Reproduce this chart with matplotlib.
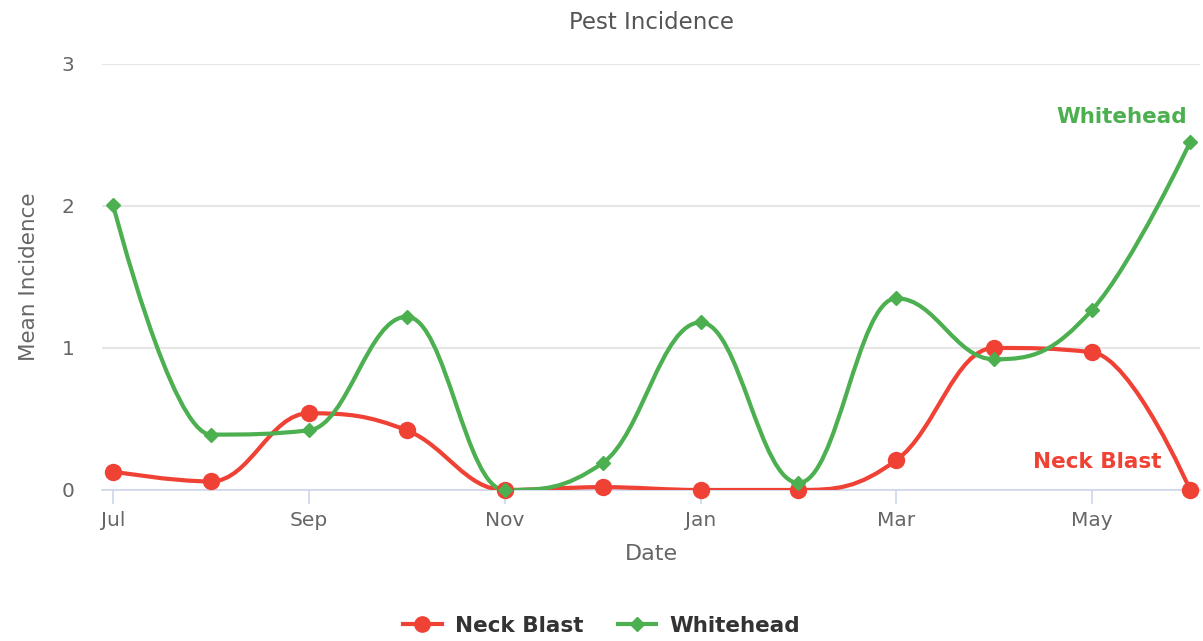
import matplotlib
matplotlib.use('Agg')
import matplotlib.pyplot as plt
from matplotlib.path import Path
from matplotlib.patches import PathPatch
from matplotlib.lines import Line2D

plt.rcParams['font.family'] = ['DejaVu Sans']

# monthly data, Jul .. Jun
months = ['Jul', 'Aug', 'Sep', 'Oct', 'Nov', 'Dec', 'Jan', 'Feb', 'Mar', 'Apr', 'May', 'Jun']
neck_blast = [0.13, 0.06, 0.54, 0.42, 0.0, 0.02, 0.0, 0.0, 0.21, 1.0, 0.97, 0.0]
whitehead = [2.01, 0.39, 0.42, 1.22, 0.0, 0.19, 1.18, 0.05, 1.35, 0.92, 1.27, 2.45]
tick_months = ['Jul', 'Sep', 'Nov', 'Jan', 'Mar', 'May']

RED = '#f04135'
GREEN = '#4caf50'


def spline_path(xs, ys, smoothing=1.5):
    # bezier path with highcharts style control points
    n = len(xs)
    left = [(xs[i], ys[i]) for i in range(n)]
    right = [(xs[i], ys[i]) for i in range(n)]
    denom = smoothing + 1
    for i in range(1, n - 1):
        px, py = xs[i], ys[i]
        lx, ly = xs[i - 1], ys[i - 1]
        nx, ny = xs[i + 1], ys[i + 1]
        lcx = (smoothing * px + lx) / denom
        lcy = (smoothing * py + ly) / denom
        rcx = (smoothing * px + nx) / denom
        rcy = (smoothing * py + ny) / denom
        if rcx != lcx:
            corr = (rcy - lcy) * (rcx - px) / (rcx - lcx) + py - rcy
            lcy += corr
            rcy += corr
        if lcy > ly and lcy > py:
            lcy = max(ly, py)
            rcy = 2 * py - lcy
        elif lcy < ly and lcy < py:
            lcy = min(ly, py)
            rcy = 2 * py - lcy
        if rcy > ny and rcy > py:
            rcy = max(ny, py)
            lcy = 2 * py - rcy
        elif rcy < ny and rcy < py:
            rcy = min(ny, py)
            lcy = 2 * py - rcy
        left[i] = (lcx, lcy)
        right[i] = (rcx, rcy)
    verts = [(xs[0], ys[0])]
    codes = [Path.MOVETO]
    for i in range(1, n):
        verts += [right[i - 1], left[i], (xs[i], ys[i])]
        codes += [Path.CURVE4] * 3
    return Path(verts, codes)


x = list(range(len(months)))

fig = plt.figure(figsize=(12.03, 6.41), dpi=100)
ax = fig.add_axes([0.0848, 0.2356, 0.9127, 0.6646])

for sp in ['top', 'right', 'left']:
    ax.spines[sp].set_visible(False)
ax.spines['bottom'].set_color('#ccd6eb')
ax.spines['bottom'].set_linewidth(1.2)

ax.set_ylim(0, 3)
ax.set_xlim(-0.112, 11.1)
ax.set_yticks([0, 1, 2, 3])
ax.yaxis.grid(True, color='#e6e6e6', lw=1.5)
ax.set_axisbelow(True)
ax.tick_params(axis='y', length=0, pad=20, labelsize=14.5, labelcolor='#666666')
ax.set_xticks([months.index(m) for m in tick_months])
ax.set_xticklabels(tick_months)
ax.tick_params(axis='x', length=10, width=1.2, color='#ccd6eb', pad=5,
               labelsize=14.5, labelcolor='#666666')

ax.add_patch(PathPatch(spline_path(x, neck_blast), fill=False, ec=RED, lw=3, zorder=3))
ax.add_patch(PathPatch(spline_path(x, whitehead), fill=False, ec=GREEN, lw=3, zorder=3))
ax.plot(x, neck_blast, 'o', color=RED, ms=11.5, zorder=4, clip_on=False)
ax.plot(x, whitehead, 'D', color=GREEN, ms=7.5, zorder=5, clip_on=False)

ax.text(10.97, 2.63, 'Whitehead', color=GREEN, fontsize=15.5, fontweight='bold',
        ha='right', va='center')
ax.text(10.71, 0.20, 'Neck Blast', color=RED, fontsize=15.5, fontweight='bold',
        ha='right', va='center')

ax.set_title('Pest Incidence', fontsize=16.5, color='#555555', pad=25)
ax.set_xlabel('Date', fontsize=16, color='#666666', labelpad=10)
ax.set_ylabel('Mean Incidence', fontsize=15.5, color='#666666', labelpad=16)

handles = [Line2D([0], [0], color=RED, lw=3, marker='o', ms=11),
           Line2D([0], [0], color=GREEN, lw=3, marker='D', ms=7)]
fig.legend(handles, ['Neck Blast', 'Whitehead'], loc='center', bbox_to_anchor=(0.5, 0.024),
           ncol=2, frameon=False, handlelength=1.8, columnspacing=1.6, handletextpad=0.6,
           prop={'size': 15.5, 'weight': 'bold'}, labelcolor='#333333')

fig.savefig('out.png', dpi=100)
